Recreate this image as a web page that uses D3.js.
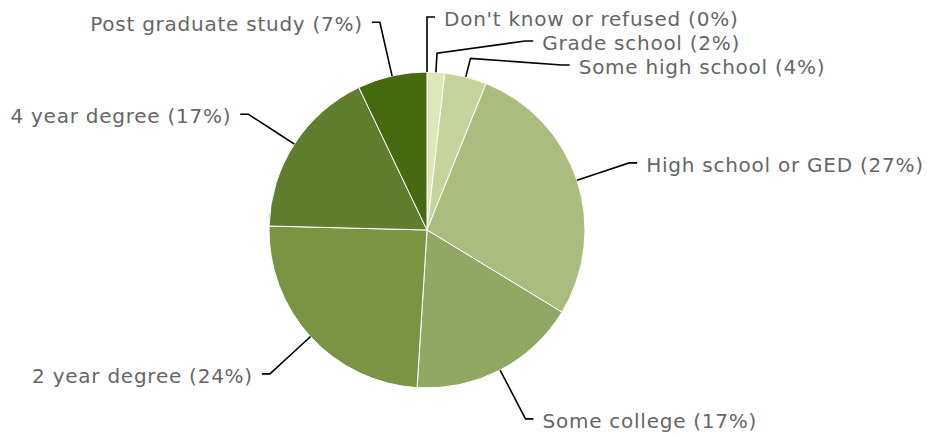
<!DOCTYPE html>
<html>
<head>
<meta charset="utf-8">
<script src="https://cdn.jsdelivr.net/npm/d3@7"></script>
<style>
  body { margin: 0; background: #fff; }
  svg { display: block; }
  .label { font-family: 'DejaVu Sans', sans-serif; font-size: 20px; letter-spacing: 0.75px; fill: #666; }
</style>
</head>
<body>
<svg class="chart"></svg>
<script>
const categories = ["Don't know or refused", 'Grade school', 'Some high school', 'High school or GED',
  'Some college', '2 year degree', '4 year degree', 'Post graduate study'];
const shares = [0, 1.8, 4.3, 27.6, 17.3, 24.4, 17.5, 7.1];
const shownPct = [0, 2, 4, 27, 17, 24, 17, 7];
const colors = ['#e6efc8', '#dce8b5', '#c5d49b', '#aabd7e', '#91a865', '#7a9444', '#607e2e', '#476a10'];

const startApp = () => {
  const viewBox = { width: 927, height: 438 };
  const center = { x: 427, y: 230 };
  const radius = 158;
  const breakRadius = radius + 19;
  const labelRadius = 213;
  const tick = 8;
  const gap = 24;

  const svg = d3.select('.chart')
    .attr('width', viewBox.width)
    .attr('height', viewBox.height);
  const chart = svg.append('g')
    .attr('transform', `translate(${center.x}, ${center.y})`);

  const data = categories.map((name, i) => ({ name, value: shares[i], pct: shownPct[i], color: colors[i] }));
  const arcs = d3.pie().sort(null).value(d => d.value)(data);
  const arc = d3.arc().innerRadius(0).outerRadius(radius);

  chart.selectAll('path.slice')
    .data(arcs)
    .enter()
    .append('path')
    .attr('class', 'slice')
    .attr('d', arc)
    .attr('fill', d => d.data.color)
    .attr('stroke', '#fff')
    .attr('stroke-width', 1);

  // label layout: natural spot on a wider circle, pushed apart per side
  arcs.forEach(d => {
    d.mid = (d.startAngle + d.endAngle) / 2;
    d.left = Math.sin(d.mid) < 0;
    d.ly = -labelRadius * Math.cos(d.mid);
  });
  [false, true].forEach(side => {
    const group = arcs.filter(d => d.left === side).sort((a, b) => a.ly - b.ly);
    let prev = -Infinity;
    group.forEach(d => {
      d.ly = Math.max(d.ly, prev + gap, -labelRadius);
      prev = d.ly;
    });
    for (let i = group.length - 1; i >= 0; i--) {
      const limit = i === group.length - 1 ? labelRadius : group[i + 1].ly - gap;
      group[i].ly = Math.min(group[i].ly, limit);
    }
  });
  arcs.forEach(d => {
    d.dir = d.left ? -1 : 1;
    d.lx = d.dir * Math.sqrt(Math.max(0, labelRadius * labelRadius - d.ly * d.ly));
  });

  const polar = (r, a) => [r * Math.sin(a), -r * Math.cos(a)];

  chart.selectAll('.connector')
    .data(arcs)
    .enter()
    .append('path')
    .attr('class', 'connector')
    .attr('fill', 'none')
    .attr('stroke', '#000')
    .attr('stroke-width', 1.6)
    .attr('d', d => {
      const [ex, ey] = polar(radius, d.mid);
      const [bx, by] = polar(breakRadius, d.mid);
      return `M${ex},${ey}L${bx},${by}L${d.lx},${d.ly}L${d.lx + d.dir * tick},${d.ly}`;
    });

  chart.selectAll('.label')
    .data(arcs)
    .enter()
    .append('text')
    .attr('class', 'label')
    .attr('x', d => d.lx + d.dir * (tick + 9))
    .attr('y', d => d.ly + 2)
    .attr('dy', '0.35em')
    .attr('text-anchor', d => d.left ? 'end' : 'start')
    .text(d => `${d.data.name} (${d.data.pct}%)`);
};

window.onload = startApp;
</script>
</body>
</html>
